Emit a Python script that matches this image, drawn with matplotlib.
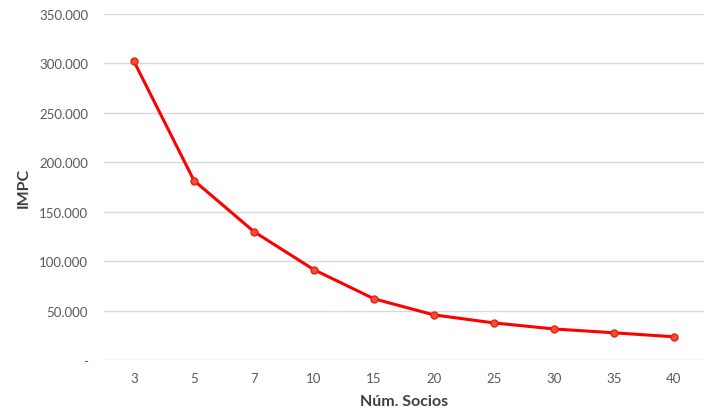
import matplotlib.pyplot as plt
from matplotlib.ticker import FuncFormatter

socios = ["3", "5", "7", "10", "15", "20", "25", "30", "35", "40"]
impc = [302000, 181500, 129800, 91300, 61900, 45600, 37500, 31400, 27500, 23500]

plt.rcParams['font.family'] = ['Lato', 'DejaVu Sans']

def miles(v, pos):
    if v == 0:
        return "-"
    return "{:,.0f}".format(v).replace(",", ".")

fig = plt.figure(figsize=(7.04, 4.14), dpi=100)
ax = fig.add_axes([104 / 704, 1 - 361 / 414, 600 / 704, 346 / 414])

x = list(range(len(socios)))
ax.plot(x, impc, color="#FF0000", linewidth=2.2, marker="o", markersize=5,
        markerfacecolor="#F2502A", markeredgecolor="#E8201A", markeredgewidth=1, zorder=3)

ax.set_xlim(-0.5, len(socios) - 0.5)
ax.set_ylim(0, 350000)
ax.set_yticks(range(0, 350001, 50000))
ax.yaxis.set_major_formatter(FuncFormatter(miles))
ax.set_xticks(x)
ax.set_xticklabels(socios)

ax.grid(axis="y", color="#D9D9D9", linewidth=1)
ax.set_axisbelow(True)
for s in ax.spines.values():
    s.set_visible(False)
ax.tick_params(length=0, labelsize=9.5, colors="#595959")
ax.tick_params(axis="x", pad=9)
ax.tick_params(axis="y", pad=11.5)

ax.set_ylabel("IMPC", fontsize=11.5, fontweight="bold", color="#404040", labelpad=6)
ax.set_xlabel("Núm. Socios", fontsize=11.5, fontweight="bold", color="#404040", labelpad=7)

plt.savefig("out.png", dpi=100)
